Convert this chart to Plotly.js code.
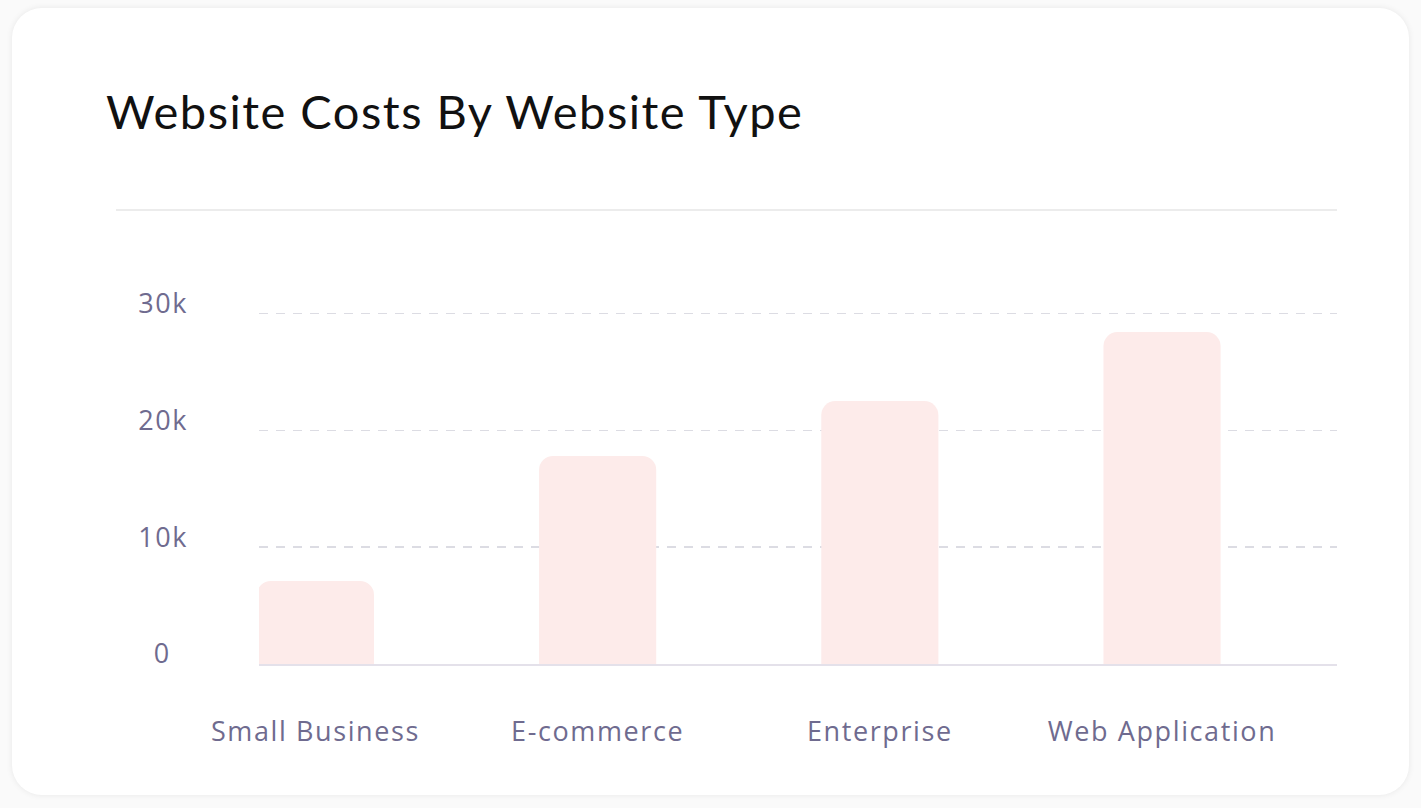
<!DOCTYPE html>
<html>
<head>
<meta charset="utf-8">
<script src="https://cdn.plot.ly/plotly-3.0.1.min.js"></script>
<style>
  html, body { margin: 0; padding: 0; background: #fafafa; }
  #card {
    position: absolute; left: 12px; top: 8px; width: 1397px; height: 787px;
    background: #ffffff; border-radius: 30px;
    box-shadow: 0 0 6px rgba(0,0,0,0.08);
  }
  #chart { position: absolute; left: 0; top: 0; width: 1421px; height: 808px; }
  .xtick text, .ytick text { letter-spacing: 1.6px; }
  .gtitle { letter-spacing: 1.5px; }
</style>
</head>
<body>
<div id="card"></div>
<div id="chart"></div>
<script>
let website_types = ["Small Business", "E-commerce", "Enterprise", "Web Application"];
let website_costs = [7100, 17800, 22500, 28400];
let cost_ticks = [0, 10000, 20000, 30000];
let cost_tick_labels = ["0\u00a0\u00a0", "10k", "20k", "30k"];

let label_color = "#6f6b8f";

let bars = {
    x: website_types,
    y: website_costs,
    type: "bar",
    width: 0.415,
    marker: { color: "#fdebea", cornerradius: 14 },
    hoverinfo: "x+y"
};

let layout = {
    width: 1421,
    height: 808,
    paper_bgcolor: "rgba(0,0,0,0)",
    plot_bgcolor: "rgba(0,0,0,0)",
    margin: { l: 259, r: 84, t: 290, b: 144 },
    showlegend: false,
    title: {
        text: "Website Costs By Website Type",
        font: { family: "Lato, sans-serif", size: 47, color: "#111111" },
        xref: "container", yref: "container",
        x: 106 / 1421, xanchor: "left",
        y: 1 - 113 / 808, yanchor: "middle"
    },
    xaxis: {
        type: "category",
        range: [-0.2, 3.62],
        showgrid: false,
        zeroline: false,
        showline: true,
        linecolor: "#e4e1ea",
        linewidth: 2,
        ticks: "",
        ticklabelstandoff: 43,
        tickfont: { family: "'Open Sans', sans-serif", size: 27, color: label_color }
    },
    yaxis: {
        range: [0, 32000],
        tickvals: cost_ticks,
        ticktext: cost_tick_labels,
        showgrid: true,
        gridcolor: "#dcdce3",
        gridwidth: 1.5,
        griddash: "9px,8px",
        zeroline: false,
        showline: false,
        ticks: "",
        ticklabelstandoff: 70,
        ticklabelshift: -10,
        tickfont: { family: "'Open Sans', sans-serif", size: 27, color: label_color }
    },
    shapes: [
        {
            type: "line", xref: "paper", yref: "paper",
            x0: (116 - 259) / 1078, x1: 1, y0: (664 - 210) / 374, y1: (664 - 210) / 374,
            line: { color: "#e6e6e6", width: 1.5 }
        }
    ]
};

Plotly.newPlot("chart", [bars], layout, { displayModeBar: false, staticPlot: true });
</script>
</body>
</html>
